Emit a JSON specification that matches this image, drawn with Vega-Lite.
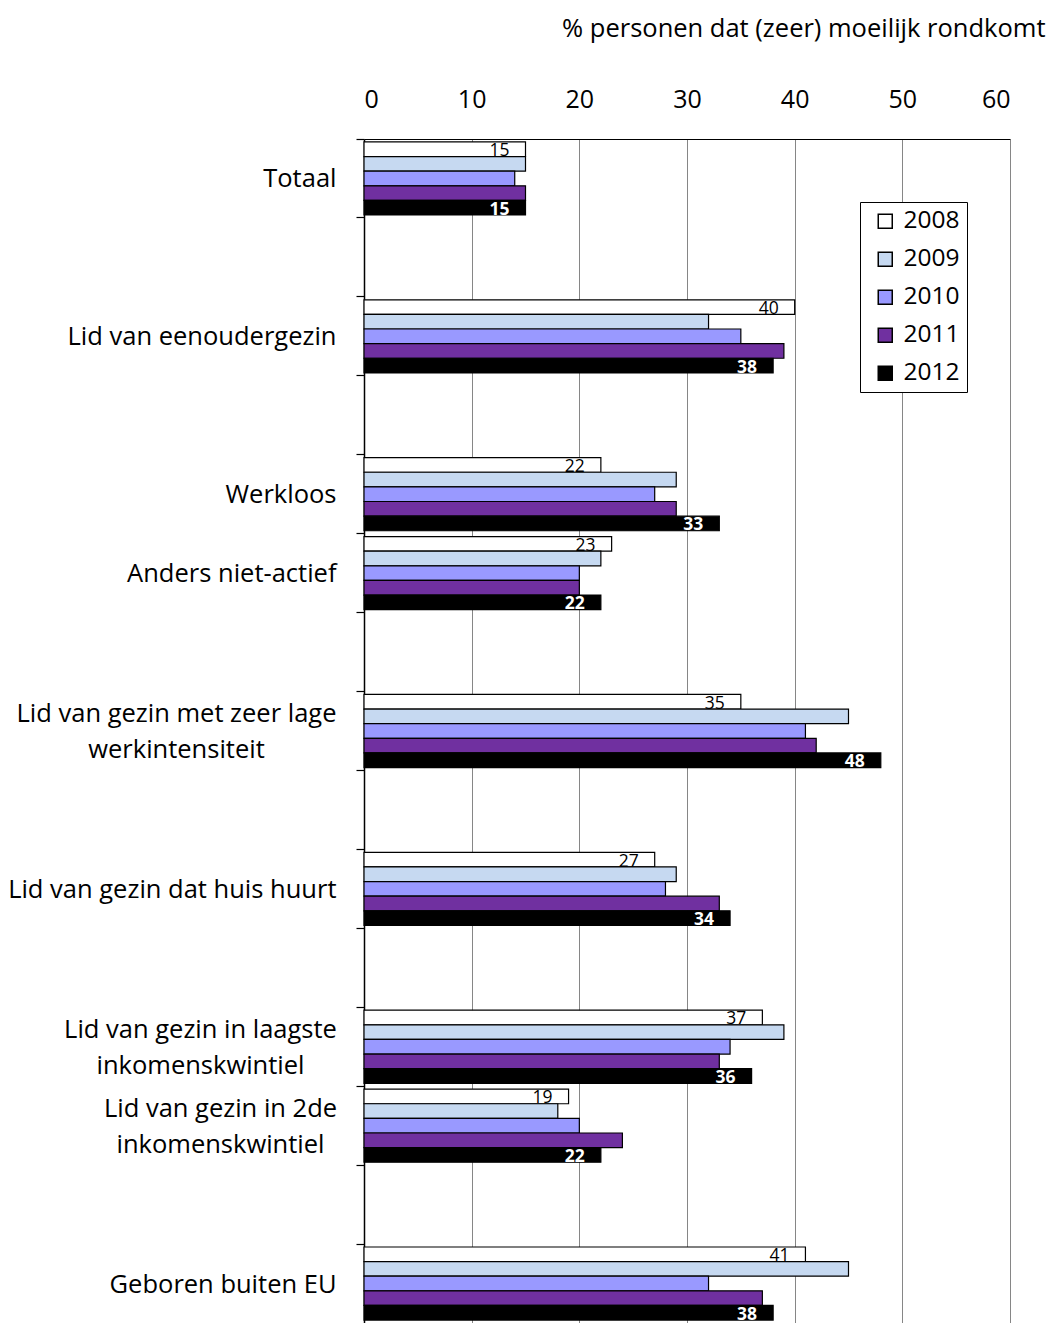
{
  "$schema": "https://vega.github.io/schema/vega-lite/v6.json",
  "autosize": {"type": "none"},
  "padding": {"left": 364, "top": 139, "right": 41, "bottom": 0},
  "width": 646,
  "height": 1184,
  "background": "white",
  "config": {
    "font": "Open Sans",
    "view": {"stroke": null},
    "axis": {"labelFont": "Open Sans", "titleFont": "Open Sans", "labelColor": "black", "titleColor": "black"},
    "legend": {"labelFont": "Open Sans"}
  },
  "data": {
    "values": [
      {"cat": "Totaal", "year": "2008", "value": 15},
      {"cat": "Totaal", "year": "2009", "value": 15},
      {"cat": "Totaal", "year": "2010", "value": 14},
      {"cat": "Totaal", "year": "2011", "value": 15},
      {"cat": "Totaal", "year": "2012", "value": 15},
      {"cat": "Lid van eenoudergezin", "year": "2008", "value": 40},
      {"cat": "Lid van eenoudergezin", "year": "2009", "value": 32},
      {"cat": "Lid van eenoudergezin", "year": "2010", "value": 35},
      {"cat": "Lid van eenoudergezin", "year": "2011", "value": 39},
      {"cat": "Lid van eenoudergezin", "year": "2012", "value": 38},
      {"cat": "Werkloos", "year": "2008", "value": 22},
      {"cat": "Werkloos", "year": "2009", "value": 29},
      {"cat": "Werkloos", "year": "2010", "value": 27},
      {"cat": "Werkloos", "year": "2011", "value": 29},
      {"cat": "Werkloos", "year": "2012", "value": 33},
      {"cat": "Anders niet-actief", "year": "2008", "value": 23},
      {"cat": "Anders niet-actief", "year": "2009", "value": 22},
      {"cat": "Anders niet-actief", "year": "2010", "value": 20},
      {"cat": "Anders niet-actief", "year": "2011", "value": 20},
      {"cat": "Anders niet-actief", "year": "2012", "value": 22},
      {"cat": "Lid van gezin met zeer lage|werkintensiteit", "year": "2008", "value": 35},
      {"cat": "Lid van gezin met zeer lage|werkintensiteit", "year": "2009", "value": 45},
      {"cat": "Lid van gezin met zeer lage|werkintensiteit", "year": "2010", "value": 41},
      {"cat": "Lid van gezin met zeer lage|werkintensiteit", "year": "2011", "value": 42},
      {"cat": "Lid van gezin met zeer lage|werkintensiteit", "year": "2012", "value": 48},
      {"cat": "Lid van gezin dat huis huurt", "year": "2008", "value": 27},
      {"cat": "Lid van gezin dat huis huurt", "year": "2009", "value": 29},
      {"cat": "Lid van gezin dat huis huurt", "year": "2010", "value": 28},
      {"cat": "Lid van gezin dat huis huurt", "year": "2011", "value": 33},
      {"cat": "Lid van gezin dat huis huurt", "year": "2012", "value": 34},
      {"cat": "Lid van gezin in laagste|inkomenskwintiel", "year": "2008", "value": 37},
      {"cat": "Lid van gezin in laagste|inkomenskwintiel", "year": "2009", "value": 39},
      {"cat": "Lid van gezin in laagste|inkomenskwintiel", "year": "2010", "value": 34},
      {"cat": "Lid van gezin in laagste|inkomenskwintiel", "year": "2011", "value": 33},
      {"cat": "Lid van gezin in laagste|inkomenskwintiel", "year": "2012", "value": 36},
      {"cat": "Lid van gezin in 2de|inkomenskwintiel", "year": "2008", "value": 19},
      {"cat": "Lid van gezin in 2de|inkomenskwintiel", "year": "2009", "value": 18},
      {"cat": "Lid van gezin in 2de|inkomenskwintiel", "year": "2010", "value": 20},
      {"cat": "Lid van gezin in 2de|inkomenskwintiel", "year": "2011", "value": 24},
      {"cat": "Lid van gezin in 2de|inkomenskwintiel", "year": "2012", "value": 22},
      {"cat": "Geboren buiten EU", "year": "2008", "value": 41},
      {"cat": "Geboren buiten EU", "year": "2009", "value": 45},
      {"cat": "Geboren buiten EU", "year": "2010", "value": 32},
      {"cat": "Geboren buiten EU", "year": "2011", "value": 37},
      {"cat": "Geboren buiten EU", "year": "2012", "value": 38}
    ]
  },
  "encoding": {
    "x": {
      "field": "value",
      "type": "quantitative",
      "scale": {"domain": [0, 60], "nice": false},
      "axis": {
        "orient": "top",
        "values": [0, 10, 20, 30, 40, 50, 60],
        "grid": true,
        "gridColor": "#868686",
        "gridWidth": 1,
        "domainColor": "black",
        "domainWidth": 1.2,
        "ticks": false,
        "labelFontSize": 25,
        "labelPadding": 27,
        "title": "% personen dat (zeer) moeilijk rondkomt",
        "titleFontSize": 25.5,
        "titleFontWeight": "normal",
        "titleAlign": "right",
        "titleBaseline": "middle",
        "titleX": 681,
        "titleY": -111
      }
    },
    "y": {
      "field": "cat",
      "type": "nominal",
      "scale": {
        "domain": ["Totaal", "_1", "Lid van eenoudergezin", "_2", "Werkloos", "Anders niet-actief", "_3", "Lid van gezin met zeer lage|werkintensiteit", "_4", "Lid van gezin dat huis huurt", "_5", "Lid van gezin in laagste|inkomenskwintiel", "Lid van gezin in 2de|inkomenskwintiel", "_6", "Geboren buiten EU"],
        "paddingInner": 0,
        "paddingOuter": 0
      },
      "axis": {
        "title": null,
        "orient": "left",
        "domainColor": "black",
        "domainWidth": 1.5,
        "tickColor": "black",
        "tickSize": 8,
        "tickWidth": 1.2,
        "bandPosition": 0,
        "labelOffset": {"condition": {"test": "indexof(datum.value, '|') >= 0", "value": -17}, "value": 1},
        "labelAlign": {"condition": {"test": "indexof(datum.value, '|') >= 0", "value": "center"}, "value": "right"},
        "labelPadding": {"condition": [
          {"test": "indexof(datum.value, 'zeer') >= 0", "value": 180},
          {"test": "indexof(datum.value, 'laagste') >= 0", "value": 156},
          {"test": "indexof(datum.value, '2de') >= 0", "value": 136}
        ], "value": 20},
        "labelFontSize": 25.5,
        "labelLineHeight": 36,
        "labelLimit": 0,
        "labelExpr": "indexof(datum.value, '_') == 0 ? '' : split(datum.value, '|')"
      }
    },
    "yOffset": {
      "field": "year",
      "type": "nominal",
      "scale": {"domain": ["2008", "2009", "2010", "2011", "2012"], "paddingInner": 0, "paddingOuter": 0.2}
    }
  },
  "layer": [
    {
      "mark": {"type": "bar", "stroke": "black", "strokeWidth": 1.2},
      "encoding": {
        "color": {
          "field": "year",
          "type": "nominal",
          "scale": {"domain": ["2008", "2009", "2010", "2011", "2012"], "range": ["#FFFFFF", "#C6D9F1", "#9999FF", "#7030A0", "#000000"]},
          "legend": {
            "orient": "none",
            "legendX": 496,
            "legendY": 63,
            "title": null,
            "direction": "vertical",
            "strokeColor": "black",
            "fillColor": "white",
            "padding": 7,
            "symbolOffset": 6,
            "symbolType": "square",
            "symbolSize": 196,
            "symbolStrokeColor": "black",
            "symbolStrokeWidth": 1.5,
            "symbolOpacity": 1,
            "labelFontSize": 24.5,
            "labelColor": "black",
            "labelOffset": 6,
            "rowPadding": 13
          }
        }
      }
    },
    {
      "transform": [{"filter": "datum.year == '2008'"}],
      "mark": {"type": "text", "align": "right", "baseline": "middle", "dx": -16, "dy": 2, "fontSize": 17.5, "color": "black"},
      "encoding": {"text": {"field": "value", "type": "quantitative"}}
    },
    {
      "transform": [{"filter": "datum.year == '2012'"}],
      "mark": {"type": "text", "align": "right", "baseline": "middle", "dx": -16, "dy": 2, "fontSize": 17.5, "fontWeight": "bold", "color": "white"},
      "encoding": {"text": {"field": "value", "type": "quantitative"}}
    }
  ]
}
